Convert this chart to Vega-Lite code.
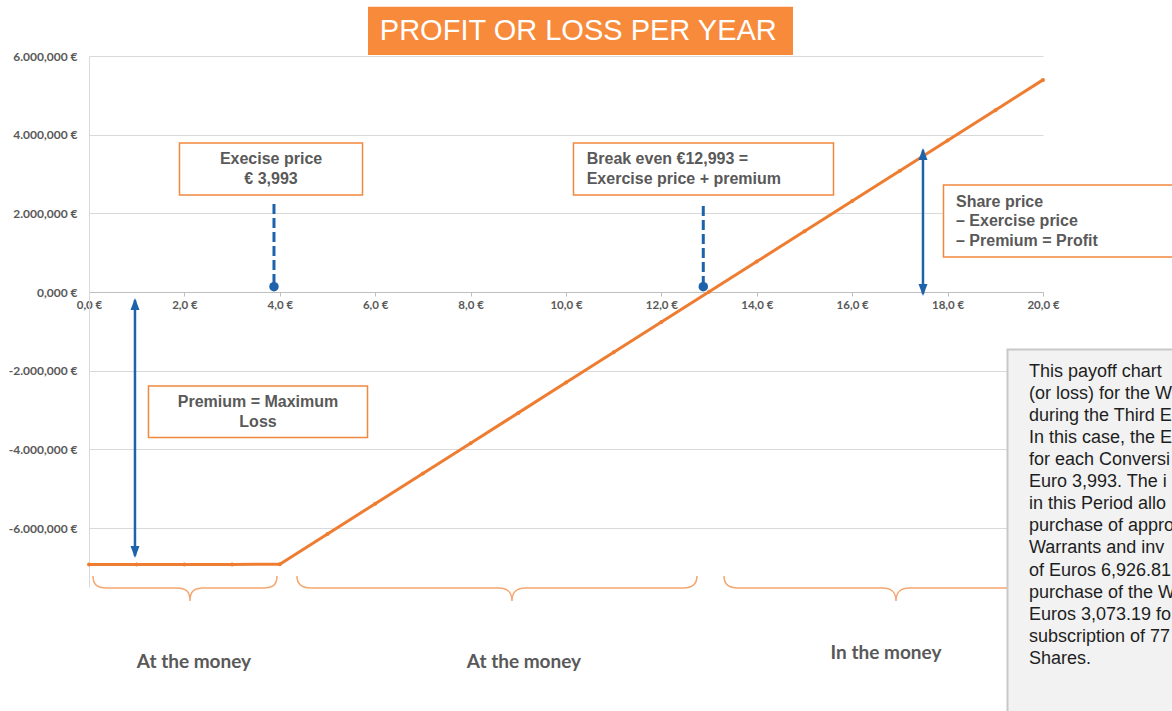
{
  "$schema": "https://vega.github.io/schema/vega-lite/v6.json",
  "width": 954,
  "height": 531,
  "autosize": "none",
  "padding": {"left": 89, "top": 56, "right": 129, "bottom": 124},
  "background": "white",
  "config": {"view": {"stroke": null}},
  "datasets": {
    "payoff": [
      {"price": 0, "profit": -6926810},
      {"price": 1, "profit": -6926810},
      {"price": 2, "profit": -6926810},
      {"price": 3, "profit": -6926810},
      {"price": 4, "profit": -6921430},
      {"price": 5, "profit": -6151780},
      {"price": 6, "profit": -5382140},
      {"price": 7, "profit": -4612490},
      {"price": 8, "profit": -3842840},
      {"price": 9, "profit": -3073200},
      {"price": 10, "profit": -2303550},
      {"price": 11, "profit": -1533910},
      {"price": 12, "profit": -764260},
      {"price": 13, "profit": 5390},
      {"price": 14, "profit": 775030},
      {"price": 15, "profit": 1544680},
      {"price": 16, "profit": 2314330},
      {"price": 17, "profit": 3083970},
      {"price": 18, "profit": 3853620},
      {"price": 19, "profit": 4623260},
      {"price": 20, "profit": 5392910}
    ]
  },
  "encoding": {
    "x": {
      "field": "price", "type": "quantitative",
      "scale": {"domain": [0, 20], "nice": false},
      "axis": {
        "values": [0, 2, 4, 6, 8, 10, 12, 14, 16, 18, 20],
        "offset": -295, "grid": false, "title": null,
        "domainColor": "#BFBFBF", "tickColor": "#BFBFBF", "tickSize": 4,
        "labelPadding": 3, "labelFlush": false, "labelOverlap": false,
        "labelFont": "Lato", "labelFontWeight": "bold", "labelFontSize": 11.5, "labelColor": "#595959",
        "labelExpr": "replace(format(datum.value, '.1f'), '.', ',') + ' €'"
      }
    },
    "y": {
      "field": "profit", "type": "quantitative",
      "scale": {"domain": [-7500000, 6000000], "nice": false},
      "axis": {
        "values": [-6000000, -4000000, -2000000, 0, 2000000, 4000000, 6000000],
        "grid": true, "gridColor": "#D9D9D9", "domainColor": "#D9D9D9", "ticks": false, "title": null,
        "labelPadding": 12, "labelFont": "Lato", "labelFontWeight": "bold", "labelFontSize": 12, "labelColor": "#595959",
        "labelExpr": "datum.value == 0 ? '0,000 €' : (datum.value < 0 ? '-' : '') + (abs(datum.value) / 1000000) + '.000,000 €'"
      }
    }
  },
  "layer": [
    {
      "data": {"name": "payoff"},
      "mark": {"type": "line", "color": "#EE7D31", "strokeWidth": 3}
    },
    {
      "data": {"name": "payoff"},
      "mark": {"type": "point", "filled": true, "color": "#EE7D31", "size": 16, "opacity": 1}
    },
    {
      "data": {"values": [{"price": 5.849, "price2": 14.759, "profit": 7253400, "profit2": 6025400}]},
      "mark": {"type": "rect", "fill": "#F88A3C"},
      "encoding": {"x2": {"field": "price2"}, "y2": {"field": "profit2"}}
    },
    {
      "data": {"values": [{"price": 10.258, "profit": 6636000, "label": "PROFIT OR LOSS PER YEAR"}]},
      "mark": {"type": "text", "font": "Liberation Sans", "fontSize": 29, "color": "white", "align": "center", "baseline": "middle"},
      "encoding": {"text": {"field": "label"}}
    },
    {
      "data": {"values": [
        {"box": "exercise", "price": 1.897, "price2": 5.734, "profit": 3788000, "profit2": 2466000},
        {"box": "breakeven", "price": 10.157, "price2": 15.608, "profit": 3788000, "profit2": 2466000},
        {"box": "share", "price": 17.914, "price2": 22.872, "profit": 2720000, "profit2": 890000},
        {"box": "premium", "price": 1.247, "price2": 5.839, "profit": -2390000, "profit2": -3699000}
      ]},
      "mark": {"type": "rect", "fill": "white", "stroke": "#F0883E", "strokeWidth": 1.5},
      "encoding": {"x2": {"field": "price2"}, "y2": {"field": "profit2"}}
    },
    {
      "data": {"values": [
        {"price": 3.816, "profit": 3381000, "label": "Execise price\n€ 3,993"},
        {"price": 3.543, "profit": -2809000, "label": "Premium = Maximum\nLoss"}
      ]},
      "mark": {"type": "text", "font": "Liberation Sans", "fontWeight": "bold", "fontSize": 16, "color": "#595959", "align": "center", "baseline": "middle", "lineBreak": "\n", "lineHeight": 20},
      "encoding": {"text": {"field": "label"}}
    },
    {
      "data": {"values": [
        {"price": 10.434, "profit": 3381000, "label": "Break even €12,993 =\nExercise price + premium"},
        {"price": 18.176, "profit": 2296000, "label": "Share price\n– Exercise price\n– Premium  = Profit"}
      ]},
      "mark": {"type": "text", "font": "Liberation Sans", "fontWeight": "bold", "fontSize": 16, "color": "#595959", "align": "left", "baseline": "middle", "lineBreak": "\n", "lineHeight": 19.7},
      "encoding": {"text": {"field": "label"}}
    },
    {
      "data": {"values": [
        {"price": 3.878, "profit": 2237000, "profit2": 134700},
        {"price": 12.878, "profit": 2186000, "profit2": 134700}
      ]},
      "mark": {"type": "rule", "color": "#1F62AC", "strokeWidth": 3, "strokeDash": [10, 4]},
      "encoding": {"y2": {"field": "profit2"}}
    },
    {
      "data": {"values": [
        {"price": 3.878, "profit": 134700},
        {"price": 12.878, "profit": 134700}
      ]},
      "mark": {"type": "point", "shape": "circle", "filled": true, "color": "#1F62AC", "size": 90, "opacity": 1}
    },
    {
      "data": {"values": [
        {"price": 0.964, "profit": -203000, "profit2": -6712000},
        {"price": 17.484, "profit": 3610000, "profit2": -50800}
      ]},
      "mark": {"type": "rule", "color": "#1F62AC", "strokeWidth": 2.5},
      "encoding": {"y2": {"field": "profit2"}}
    },
    {
      "data": {"values": [
        {"price": 0.964, "profit": -305000},
        {"price": 17.484, "profit": 3508000}
      ]},
      "mark": {"type": "point", "shape": "M 0 -1 L 0.75 1 L -0.75 1 Z", "filled": true, "color": "#1F62AC", "size": 144, "opacity": 1}
    },
    {
      "data": {"values": [
        {"price": 0.964, "profit": -6610000},
        {"price": 17.484, "profit": 50800}
      ]},
      "mark": {"type": "point", "shape": "M 0 1 L 0.75 -1 L -0.75 -1 Z", "filled": true, "color": "#1F62AC", "size": 144, "opacity": 1}
    },
    {
      "data": {"values": [{"price": 2.013, "profit": -7525500}]},
      "mark": {"type": "point", "shape": "M -1 -0.13 C -1 -0.04 -0.96 0 -0.85 0 L -0.096 0 C 0.015 0 0.054 0.04 0.054 0.14 C 0.054 0.04 0.093 0 0.204 0 L 0.85 0 C 0.96 0 1 -0.04 1 -0.13", "filled": false, "stroke": "#F5A66E", "strokeWidth": 1.5, "size": 33856, "opacity": 1}
    },
    {
      "data": {"values": [{"price": 8.553, "profit": -7525500}]},
      "mark": {"type": "point", "shape": "M -1 -0.06 C -1 -0.02 -0.98 0 -0.93 0 L 0.005 0 C 0.055 0 0.075 0.02 0.075 0.065 C 0.075 0.02 0.095 0 0.145 0 L 0.93 0 C 0.98 0 1 -0.02 1 -0.06", "filled": false, "stroke": "#F5A66E", "strokeWidth": 1.5, "size": 160000, "opacity": 1}
    },
    {
      "data": {"values": [{"price": 16.918, "profit": -7525500}]},
      "mark": {"type": "point", "shape": "M -1 -0.07 C -1 -0.023 -0.977 0 -0.919 0 L -0.081 0 C -0.023 0 0 0.023 0 0.076 C 0 0.023 0.023 0 0.081 0 L 0.919 0 C 0.977 0 1 -0.023 1 -0.07", "filled": false, "stroke": "#F5A66E", "strokeWidth": 1.5, "size": 118336, "opacity": 1}
    },
    {
      "data": {"values": [
        {"price": 2.201, "profit": -9407000, "label": "At the money"},
        {"price": 9.119, "profit": -9407000, "label": "At the money"},
        {"price": 16.709, "profit": -9178000, "label": "In the money"}
      ]},
      "mark": {"type": "text", "font": "Lato", "fontWeight": "bold", "fontSize": 19, "color": "#595959", "align": "center", "baseline": "middle"},
      "encoding": {"text": {"field": "label"}}
    },
    {
      "data": {"values": [{"price": 19.256, "price2": 22.977, "profit": -1462000, "profit2": -10881000}]},
      "mark": {"type": "rect", "fill": "#F2F2F2", "stroke": "#C8C8C8", "strokeWidth": 2},
      "encoding": {"x2": {"field": "price2"}, "y2": {"field": "profit2"}}
    },
    {
      "data": {"values": [{"price": 19.706, "profit": -2026000, "label": "This payoff chart\n(or loss) for the W\nduring the Third E\nIn this case, the E\nfor each Conversi\nEuro 3,993. The i\nin this Period allo\npurchase of appro\nWarrants and inv\nof Euros 6,926.81\npurchase of the W\nEuros 3,073.19 fo\nsubscription of 77\nShares."}]},
      "mark": {"type": "text", "font": "Liberation Sans", "fontSize": 18, "color": "#1E1E1E", "align": "left", "baseline": "middle", "lineBreak": "\n", "lineHeight": 22.1},
      "encoding": {"text": {"field": "label"}}
    }
  ]
}
